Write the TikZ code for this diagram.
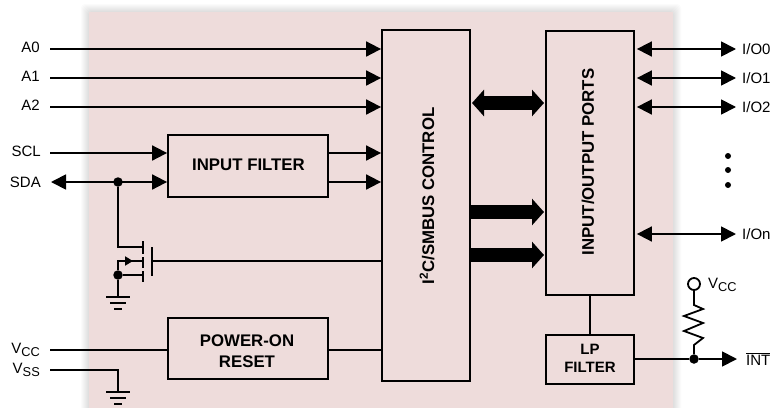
\documentclass[tikz,border=0pt]{standalone}
\usepackage{fontspec}
\setmainfont{Liberation Sans}
\usetikzlibrary{positioning,arrows.meta}
\definecolor{panelpink}{HTML}{EEDCDB}

\tikzset{
  wire/.style={line width=1.8pt},
  sig/.style={wire,-{Triangle[length=15pt,width=15pt]}},
  bisig/.style={wire,{Triangle[length=15pt,width=15pt]}-{Triangle[length=15pt,width=15pt]}},
  bus/.style={line width=14pt,-{Triangle[length=12pt,width=26pt]}},
  bibus/.style={line width=14pt,{Triangle[length=12pt,width=26pt]}-{Triangle[length=12pt,width=26pt]}},
  block/.style={draw,line width=1.8pt,inner sep=0pt},
  blocktext/.style={align=center,inner sep=0pt,font=\fontsize{16.8}{21}\selectfont\bfseries},
  lbl/.style={inner sep=0pt,font=\fontsize{15}{18}\selectfont},
  dot/.style={circle,fill=black,inner sep=0pt,minimum size=9.5pt},
  gnd/.pic={
    \draw[wire] (-12,0) -- (12,0);
    \draw[wire] (-8,6) -- (8,6);
    \draw[wire] (-4,12) -- (4,12);
  }
}
\newcommand\Vsub[1]{V\raisebox{-3.5pt}{\fontsize{12.8}{14}\selectfont #1}}

\begin{document}
\begin{tikzpicture}[x=1pt,y=-1pt]
  \useasboundingbox (0,0) rectangle (773,407);

  % soft edge of the panel
  \foreach \d in {1,2,...,8}
    \fill[black,opacity=0.016,rounded corners=4pt] (89-\d,12-\d) rectangle (673+\d,420);
  \fill[panelpink] (89,12) rectangle (673,420);

  % blocks
  \node[block,minimum width=88pt,minimum height=351pt] (control) at (426,205.5) {};
  \node[block,minimum width=88pt,minimum height=264pt] (ports) at (590,163) {};
  \node[block,minimum width=160pt,minimum height=62pt] (filter) at (248,166) {};
  \node[block,minimum width=160pt,minimum height=61pt] (por) at (248,348.5) {};
  \node[block,minimum width=88pt,minimum height=49pt] (lp) at (590,359.5) {};
  \node[blocktext,rotate=90] (controlText) at (427,196) {I\textsuperscript{2}C/SMBUS CONTROL};
  \node[blocktext,rotate=90] (portsText) at (588,162) {INPUT/OUTPUT PORTS};
  \node[blocktext] (filterText) at (248.5,165) {INPUT FILTER};
  \node[blocktext] (porText) at (247,351) {POWER-ON\\RESET};
  \node[blocktext,font=\fontsize{15}{18}\selectfont\bfseries] (lpText) at (590,358) {LP\\FILTER};

  % left pins
  \coordinate (pA0) at (50,49);
  \coordinate (pA1) at (50,78);
  \coordinate (pA2) at (50,107);
  \coordinate (pSCL) at (50,153);
  \coordinate (pSDA) at (51,182);
  \coordinate (pVCC) at (50,350);
  \coordinate (pVSS) at (50,370);
  \node[lbl,left=10pt of pA0,yshift=2pt] (A0) {A0};
  \node[lbl,left=10pt of pA1,yshift=2pt] (A1) {A1};
  \node[lbl,left=10pt of pA2,yshift=2pt] (A2) {A2};
  \node[lbl,left=9pt of pSCL,yshift=2pt] (SCL) {SCL};
  \node[lbl,left=10pt of pSDA] (SDA) {SDA};
  \node[lbl,left=10pt of pVCC] (VCC) {\Vsub{CC}};
  \node[lbl,left=10pt of pVSS] (VSS) {\Vsub{SS}};

  \draw[sig] (pA0) -- (pA0 -| control.west);
  \draw[sig] (pA1) -- (pA1 -| control.west);
  \draw[sig] (pA2) -- (pA2 -| control.west);
  \draw[sig] (pSCL) -- (pSCL -| filter.west);
  \draw[bisig] (pSDA) -- (pSDA -| filter.west);
  \draw[sig] (pSCL -| filter.east) -- (pSCL -| control.west);
  \draw[sig] (pSDA -| filter.east) -- (pSDA -| control.west);
  \draw[wire] (pVCC) -- (pVCC -| por.west);
  \draw[wire] (pVCC -| por.east) -- (pVCC -| control.west);

  % pull-down transistor
  \node[dot] (jSDA) at (118,182) {};
  \node[dot] (jSrc) at (118,275) {};
  \coordinate (gate) at (152,261);
  \draw[wire] (jSDA) |- (143,247);
  \draw[wire] (jSrc) -- (143,275);
  \draw[wire] (jSrc) -- (118,261) -- (143,261);
  \draw[wire,-{Triangle[length=8pt,width=9pt]}] (118,261) -- (133,261);
  \draw[wire] (143,241) -- (143,254);
  \draw[wire] (143,257) -- (143,268);
  \draw[wire] (143,271) -- (143,282);
  \draw[line width=2.4pt] (152,247) -- (152,276);
  \draw[wire] (gate) -- (gate -| control.west);
  \draw[wire] (jSrc) -- (118,297);
  \pic at (118,297) {gnd};

  % ground of VSS
  \coordinate (cGnd) at (118,392);
  \draw[wire] (pVSS) -| (cGnd);
  \pic at (cGnd) {gnd};

  % buses between the blocks
  \draw[bibus] (472,103) -- (544,103);
  \draw[bus] (control.east |- 0,212) -- (544,212);
  \draw[bus] (control.east |- 0,255) -- (544,255);

  % right pins
  \coordinate (pIO0) at (736,49);
  \coordinate (pIO1) at (736,78);
  \coordinate (pIO2) at (736,107);
  \coordinate (pIOn) at (736,234);
  \node[lbl,right=6pt of pIO0] (IO0) {I/O0};
  \node[lbl,right=6pt of pIO1] (IO1) {I/O1};
  \node[lbl,right=6pt of pIO2] (IO2) {I/O2};
  \node[lbl,right=6pt of pIOn] (IOn) {I/On};
  \draw[bisig] (pIO0 -| ports.east) ++(2,0) -- (pIO0);
  \draw[bisig] (pIO1 -| ports.east) ++(2,0) -- (pIO1);
  \draw[bisig] (pIO2 -| ports.east) ++(2,0) -- (pIO2);
  \draw[bisig] (pIOn -| ports.east) ++(2,0) -- (pIOn);
  \foreach \y in {156,170,185}
    \fill (728,\y) circle (3pt);

  % interrupt output
  \draw[wire] (ports) -- (lp);
  \coordinate (pINT) at (737,359);
  \node[lbl,right=9pt of pINT] (INT) {$\overline{\mbox{INT}}$};
  \node[dot] (jINT) at (694,359) {};
  \draw[wire] (pINT -| lp.east) -- (jINT);
  \draw[sig] (jINT) -- (pINT);
  \node[draw,circle,line width=1.8pt,fill=white,inner sep=0pt,minimum size=12pt] (pullup) at (694,284) {};
  \node[lbl,anchor=west] (VCCr) at (708,285) {\Vsub{CC}};
  \draw[wire] (pullup) -- (694,305) -- (703,309) -- (684,316) -- (703,323) -- (684,331) -- (703,338) -- (694,345) -- (jINT);
\end{tikzpicture}
\end{document}
